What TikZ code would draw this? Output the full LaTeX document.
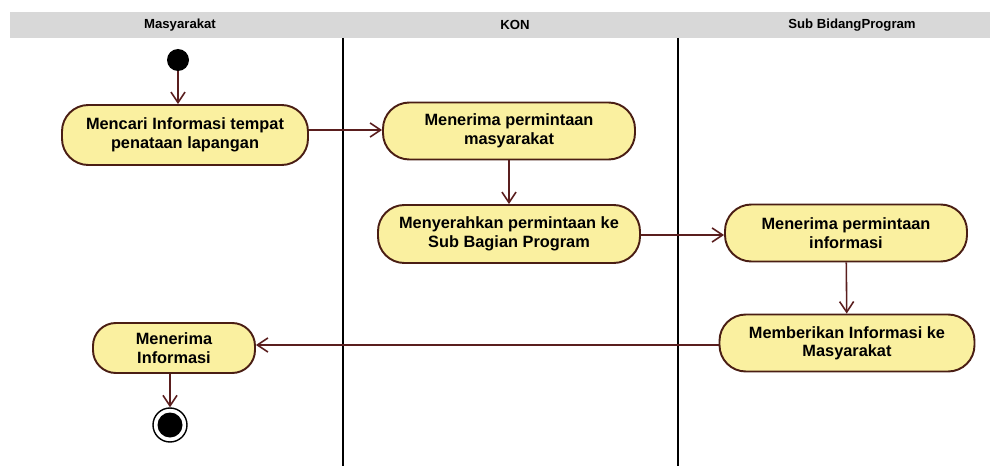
\documentclass[tikz,border=0pt]{standalone}
\usepackage{fontspec}
\setmainfont{Liberation Sans}
\usetikzlibrary{arrows.meta}
\definecolor{actfill}{HTML}{FAF0A0}
\definecolor{actline}{HTML}{4A1E14}
\definecolor{flowline}{HTML}{5A1E1E}
\definecolor{headfill}{HTML}{D8D8D8}
\begin{document}
\begin{tikzpicture}[x=0.02cm,y=-0.02cm,
  activity/.style={draw=actline, line width=1.1pt, fill=actfill, rounded corners=15pt,
    minimum height=#1*0.02cm, align=center, inner sep=2pt,
    font=\fontsize{9.3}{10.5}\selectfont\bfseries},
  flow/.style={draw=flowline, line width=0.9pt, -{Straight Barb[length=6pt,width=8pt]}},
  lane/.style={draw=black, line width=0.8pt},
  lanehead/.style={font=\fontsize{7.5}{8}\selectfont\bfseries}]
  \useasboundingbox (0,0) rectangle (997,466);
  % swimlane header band and separators
  \fill[headfill] (10,12) rectangle (990,38);
  \node[lanehead] (h1) at (180,25) {Masyarakat};
  \node[lanehead] (h2) at (515,25) {KON};
  \node[lanehead] (h3) at (852,25) {Sub BidangProgram};
  \draw[lane] (343,38) -- (343,466);
  \draw[lane] (678,38) -- (678,466);
  % initial node
  \node[circle, fill=black, minimum size=22*0.02cm, inner sep=0pt] (start) at (178,60) {};
  % activities
  \node[activity=60, minimum width=246*0.02cm] (a1) at (185,135) {Mencari Informasi tempat\\penataan lapangan};
  \node[activity=57, minimum width=252*0.02cm] (a2) at (509,131) {Menerima permintaan\\masyarakat};
  \node[activity=58, minimum width=262*0.02cm] (a3) at (509,234) {Menyerahkan permintaan ke\\Sub Bagian Program};
  \node[activity=57, minimum width=242*0.02cm] (a4) at (846,233) {Menerima permintaan\\informasi};
  \node[activity=57, minimum width=255*0.02cm] (a5) at (847,343) {Memberikan Informasi ke\\Masyarakat};
  \node[activity=50, minimum width=162*0.02cm, rounded corners=13pt] (a6) at (174,348) {Menerima\\Informasi};
  % final node
  \node[circle, draw=black, line width=0.8pt, fill=white, minimum size=34*0.02cm, inner sep=0pt] (end) at (170,425) {};
  \node[circle, fill=black, minimum size=25*0.02cm, inner sep=0pt] (endin) at (end.center) {};
  % control flows
  \draw[flow] (start) -- (a1.north -| start);
  \draw[flow] (a1.east |- 0,130) -- (a2.west |- 0,130);
  \draw[flow] (a2) -- (a3);
  \draw[flow] (a3.east |- 0,235) -- (a4.west |- 0,235);
  \draw[flow] (a4) -- (a5);
  \draw[flow] (a5.west |- 0,345) -- (a6.east |- 0,345);
  \draw[flow] (a6.south -| end) -- (end);
\end{tikzpicture}
\end{document}
